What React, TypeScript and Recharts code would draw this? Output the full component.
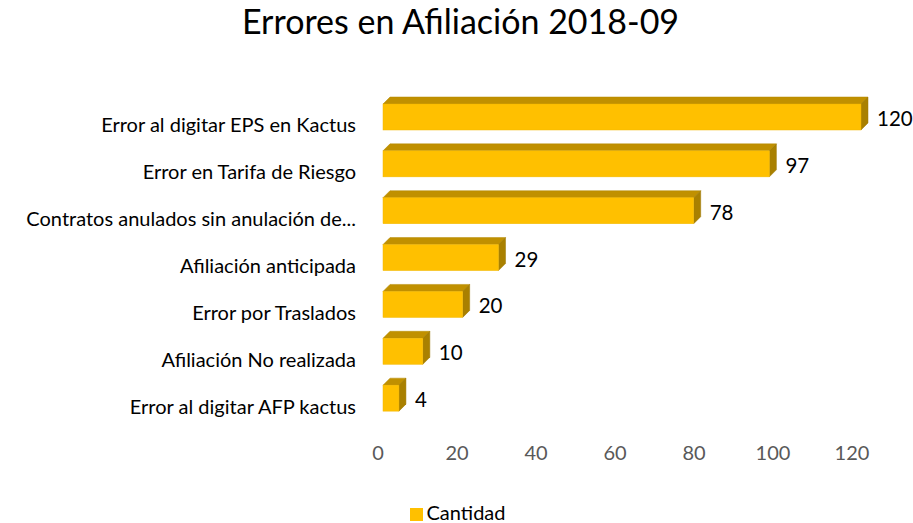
import React from 'react';
import { BarChart, Bar, XAxis, YAxis, Legend, LabelList } from 'recharts';

const categories = [
  'Error al digitar EPS en Kactus',
  'Error en Tarifa de Riesgo',
  'Contratos anulados sin anulación de...',
  'Afiliación anticipada',
  'Error por Traslados',
  'Afiliación No realizada',
  'Error al digitar AFP kactus',
];
const cantidad = [120, 97, 78, 29, 20, 10, 4];
const xTicks = [0, 20, 40, 60, 80, 100, 120];

const data = categories.map((name, i) => ({ name, Cantidad: cantidad[i] }));

const FONT = 'Lato, "Open Sans", sans-serif';
const DEPTH = 7;
const SHIFT = 5;
const STRETCH = 478 / 474;

function Bar3D(props: any) {
  const { x, y, width, height } = props;
  const fx = x + SHIFT;
  const fy = y - DEPTH;
  const w = width * STRETCH;
  const top = `${fx},${fy} ${fx + DEPTH},${fy - DEPTH} ${fx + w + DEPTH},${fy - DEPTH} ${fx + w},${fy}`;
  const side = `${fx + w},${fy} ${fx + w + DEPTH},${fy - DEPTH} ${fx + w + DEPTH},${fy + height - DEPTH} ${fx + w},${fy + height}`;
  return (
    <g>
      <polygon points={top} fill="#C09000" stroke="#B58A00" strokeWidth={0.5} />
      <polygon points={side} fill="#A98000" stroke="#9C7600" strokeWidth={0.5} />
      <rect x={fx} y={fy} width={w} height={height} fill="#FFC000" stroke="#F2B800" strokeWidth={0.5} />
    </g>
  );
}

function ValueLabel(props: any) {
  const { x, y, width, height, value } = props;
  const end = x + SHIFT + width * STRETCH + DEPTH + 9;
  return (
    <text x={end} y={y + height / 2 - 6} dominantBaseline="central" fontSize={20.5} fontFamily={FONT} fill="#000">
      {value}
    </text>
  );
}

function CategoryTick(props: any) {
  const { y, payload } = props;
  return (
    <text x={356} y={y} textAnchor="end" dominantBaseline="central" fontSize={20} fontFamily={FONT} fill="#000">
      {payload.value}
    </text>
  );
}

export default function App() {
  return (
    <div style={{ position: 'absolute', left: 0, top: 0, width: 913, height: 523, background: '#fff' }}>
      <div
        style={{
          position: 'absolute',
          top: 0,
          left: 0,
          width: 913,
          textAlign: 'center',
          fontFamily: FONT,
          fontSize: 34,
          color: '#000',
          paddingLeft: 4,
        }}
      >
        Errores en Afiliación 2018-09
      </div>
      <BarChart
        width={913}
        height={523}
        data={data}
        layout="vertical"
        margin={{ top: 101, right: 61, left: 0, bottom: 30 }}
      >
        <XAxis
          type="number"
          domain={[0, 120]}
          ticks={xTicks}
          axisLine={false}
          tickLine={false}
          height={40}
          tick={{ fill: '#595959', fontSize: 20, fontFamily: FONT }}
          tickMargin={11}
        />
        <YAxis
          type="category"
          dataKey="name"
          width={378}
          axisLine={false}
          tickLine={false}
          tick={<CategoryTick />}
          interval={0}
        />
        <Legend
          verticalAlign="bottom"
          iconType="square"
          iconSize={13}
          wrapperStyle={{ fontFamily: FONT, fontSize: 20, color: '#000', top: 500, left: 6, width: 913 }}
          formatter={(v: string) => <span style={{ color: '#000' }}>{v}</span>}
        />
        <Bar dataKey="Cantidad" fill="#FFC000" barSize={26} shape={<Bar3D />} isAnimationActive={false}>
          <LabelList dataKey="Cantidad" content={<ValueLabel />} />
        </Bar>
      </BarChart>
    </div>
  );
}
